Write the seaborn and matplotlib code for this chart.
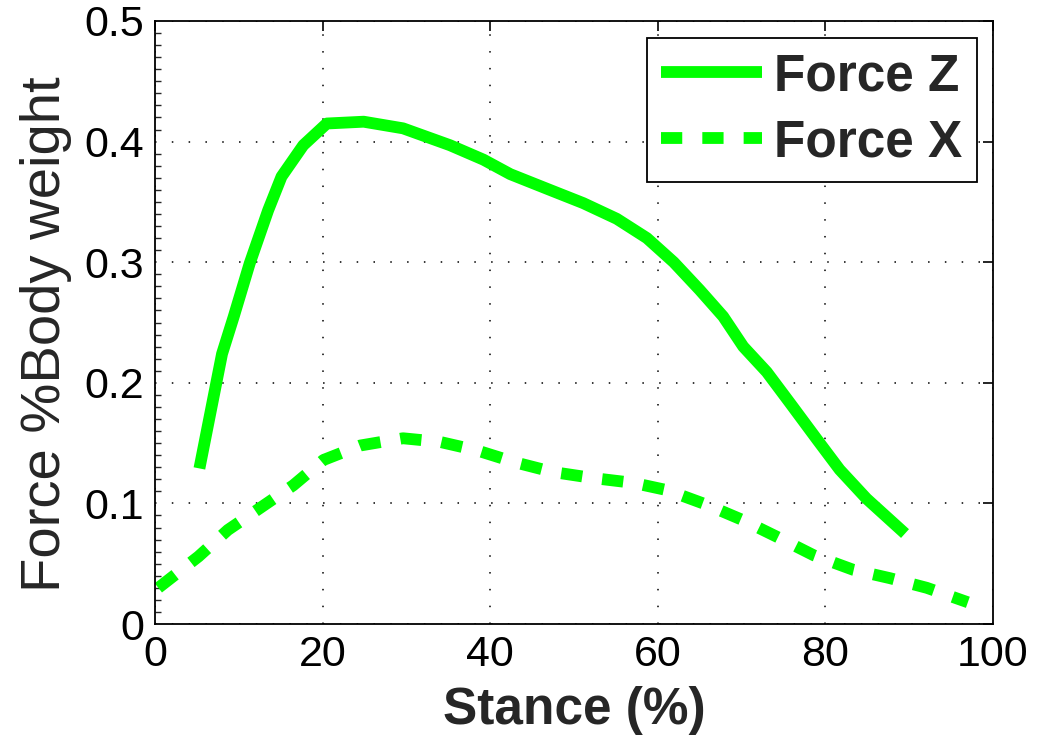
import numpy as np
import pandas as pd
import matplotlib
matplotlib.use("Agg")
import matplotlib.pyplot as plt
from matplotlib.ticker import MultipleLocator
import seaborn as sns

# Vertical ground reaction force over the stance phase
force_z_stance = [5.3, 8.0, 9.4, 11.3, 13.5, 15.1, 17.7, 20.5, 24.9, 29.6, 35.2,
                  39.2, 42.4, 47.1, 51.1, 55.1, 58.7, 61.9, 65.0, 67.8, 70.2,
                  73.0, 75.8, 79.0, 81.7, 84.9, 89.5]
force_z_value = [0.129, 0.224, 0.255, 0.299, 0.343, 0.371, 0.397, 0.415, 0.4165,
                 0.411, 0.397, 0.385, 0.373, 0.360, 0.349, 0.336, 0.320, 0.300,
                 0.277, 0.255, 0.230, 0.209, 0.183, 0.153, 0.128, 0.104, 0.075]

# Fore-aft ground reaction force over the stance phase
force_x_stance = [0.4, 5.2, 8.7, 12.5, 16.5, 20.1, 24.5, 29.6, 34.0, 38.4, 43.0,
                  47.5, 52.3, 57.1, 61.1, 65.8, 70.2, 74.6, 78.6, 83.3, 87.7,
                  92.1, 97.0]
force_x_value = [0.030, 0.056, 0.078, 0.096, 0.115, 0.136, 0.148, 0.154, 0.151,
                 0.144, 0.134, 0.126, 0.121, 0.117, 0.111, 0.099, 0.086, 0.071,
                 0.057, 0.045, 0.038, 0.030, 0.018]

series_names = ["Force Z", "Force X"]
x_ticks = [0, 20, 40, 60, 80, 100]
y_ticks = [0, 0.1, 0.2, 0.3, 0.4, 0.5]
y_tick_labels = ["0", "0.1", "0.2", "0.3", "0.4", "0.5"]

df = pd.concat([
    pd.DataFrame({"stance": force_z_stance, "force": force_z_value,
                  "series": series_names[0]}),
    pd.DataFrame({"stance": force_x_stance, "force": force_x_value,
                  "series": series_names[1]}),
], ignore_index=True)

sns.set_style("white")
plt.rcParams["font.family"] = ["Liberation Sans", "DejaVu Sans"]

fig = plt.figure(figsize=(10.39, 7.41), dpi=100)
ax = fig.add_axes([155 / 1039, 1 - 624 / 741, (993 - 155) / 1039, (624 - 21) / 741])

green = (0.0, 1.0, 0.0)
sns.lineplot(data=df, x="stance", y="force", hue="series", style="series",
             palette=[green, green],
             dashes={"Force Z": "", "Force X": (1.8, 1.7)},
             linewidth=8.5, sort=False, ax=ax, legend=True)
for line in ax.lines:
    line.set_solid_capstyle("butt")
    line.set_dash_capstyle("butt")

ax.set_xlim(0, 100)
ax.set_ylim(0, 0.5)
ax.set_xticks(x_ticks)
ax.set_xticklabels([str(t) for t in x_ticks])
ax.set_yticks(y_ticks)
ax.set_yticklabels(y_tick_labels)
ax.yaxis.set_minor_locator(MultipleLocator(0.01))

ax.tick_params(axis="both", which="major", direction="in", length=7, width=1.2,
               top=True, right=True, labelsize=31, colors="black", pad=8)
ax.tick_params(axis="y", which="minor", direction="in", length=4, width=1.0,
               left=True, right=False)

ax.grid(True, which="major", color="black", linestyle=(0, (1, 10)), linewidth=1.1)
for spine in ax.spines.values():
    spine.set_color("black")
    spine.set_linewidth(1.3)

ax.set_xlabel("Stance (%)", fontsize=37, fontweight="bold", labelpad=8)
ax.set_ylabel("Force %Body weight", fontsize=40.5)
ax.yaxis.set_label_coords(-0.099, 0.481)

leg = ax.legend(loc="upper right", prop={"weight": "bold", "size": 37},
                handlelength=1.95, handletextpad=0.25, labelspacing=0.33,
                borderpad=0.28, borderaxespad=0, fancybox=False, frameon=True,
                bbox_to_anchor=(0.981, 0.9718))
leg.get_frame().set_edgecolor("black")
leg.get_frame().set_linewidth(1.3)
leg.get_frame().set_alpha(1)
for h in leg.get_lines():
    h.set_linewidth(8.5)
    h.set_solid_capstyle("butt")
    h.set_dash_capstyle("butt")

fig.savefig("out.png", dpi=100)
